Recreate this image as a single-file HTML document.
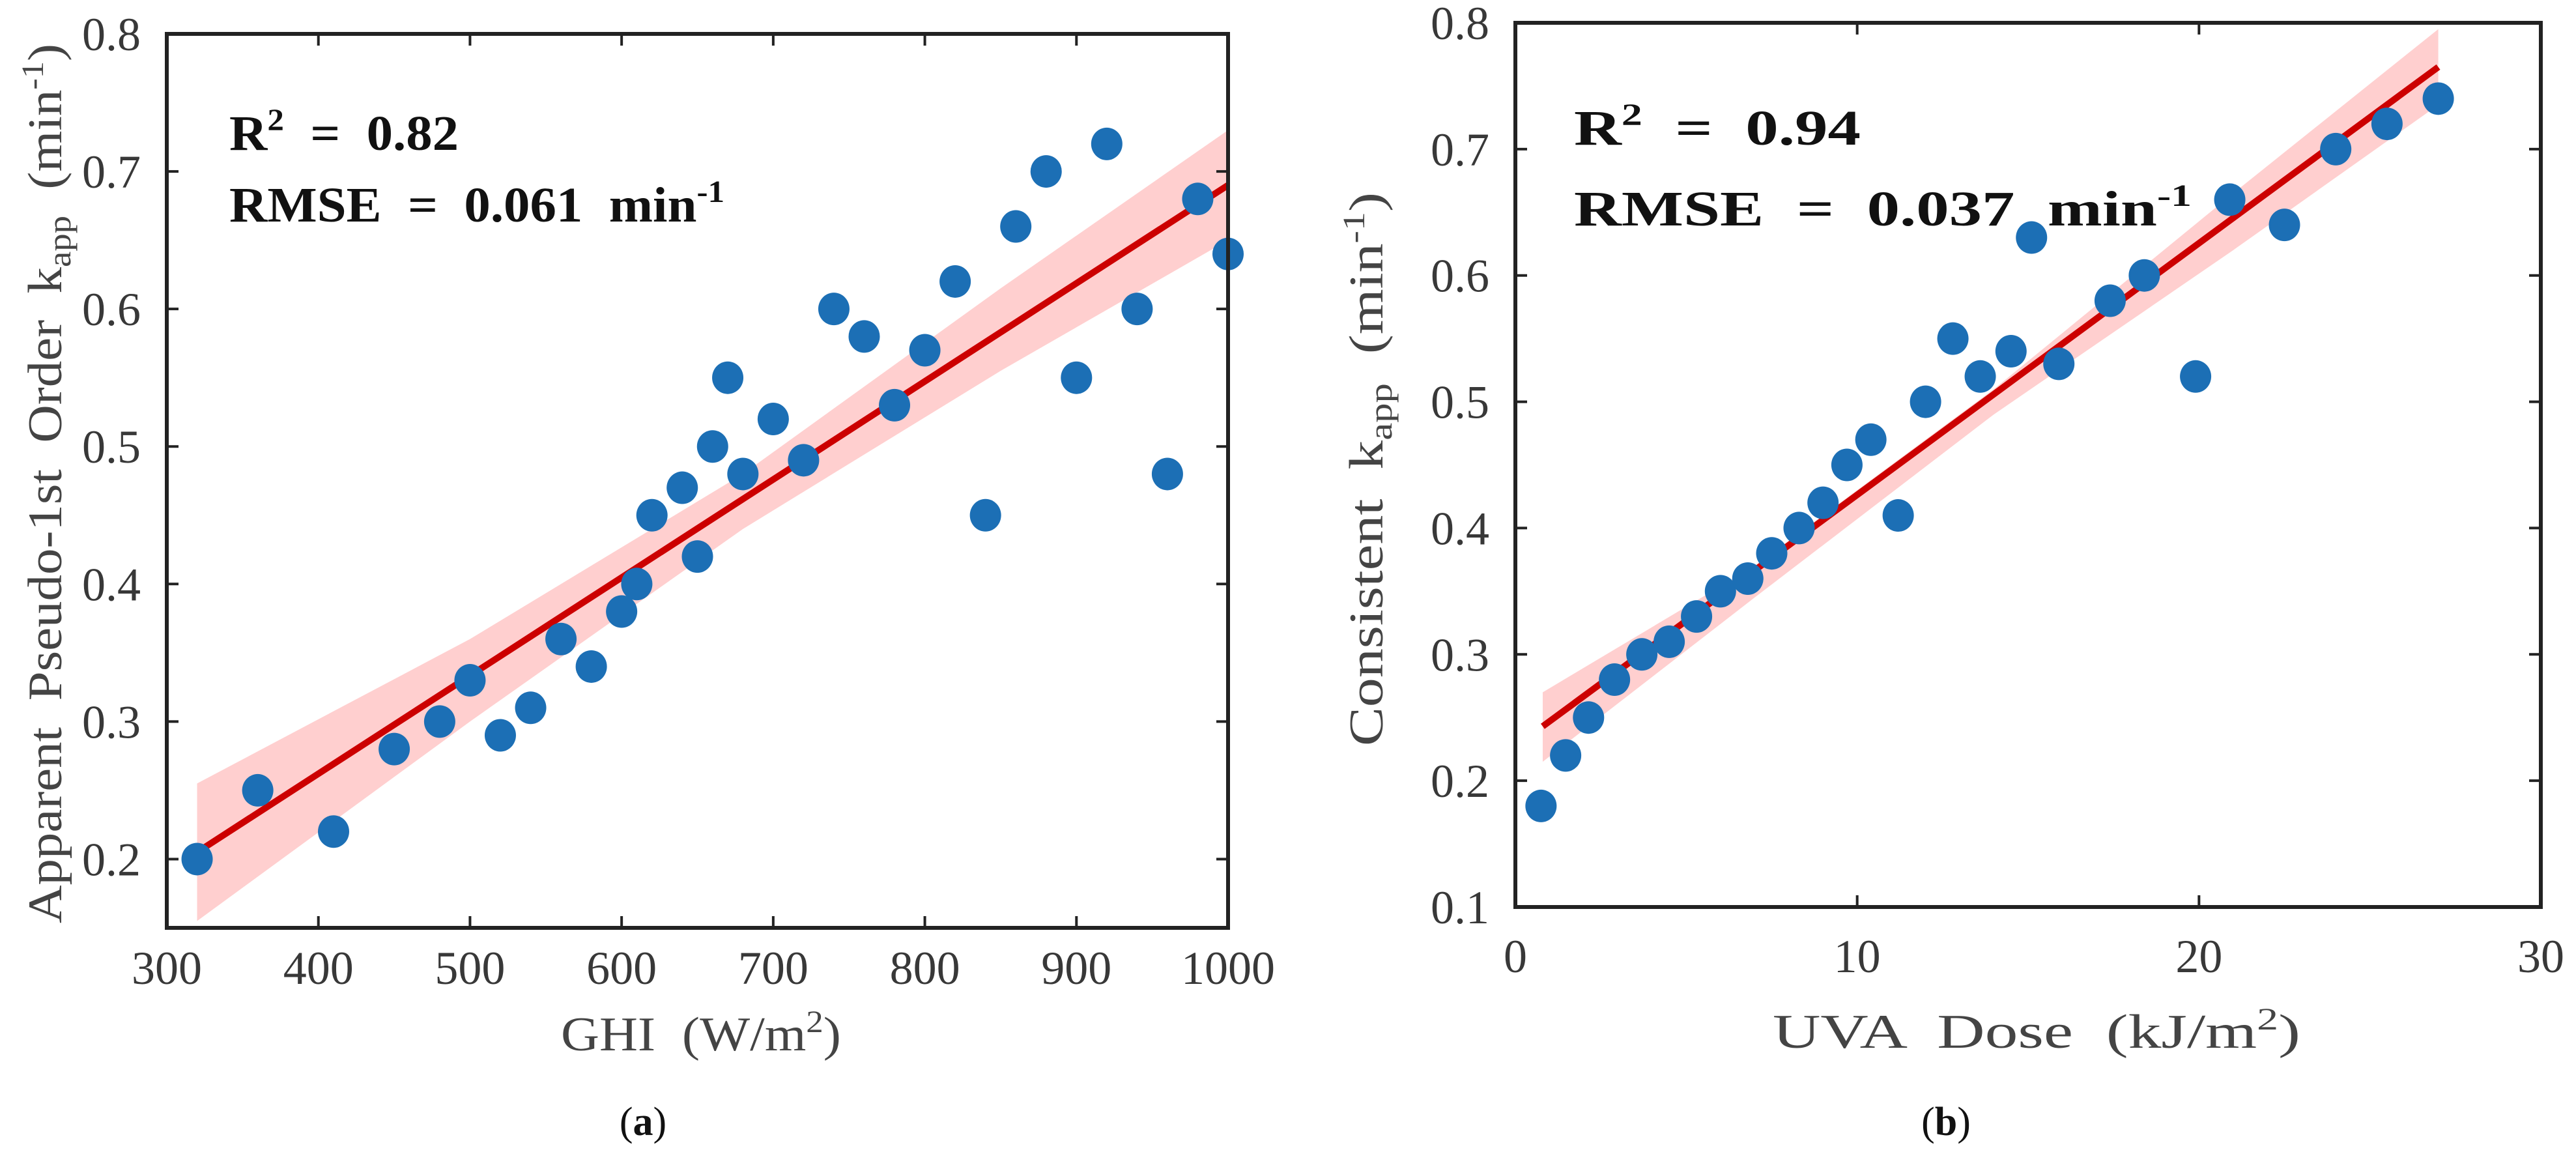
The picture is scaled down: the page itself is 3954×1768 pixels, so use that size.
<!DOCTYPE html>
<html><head><meta charset="utf-8"><style>
html,body{margin:0;padding:0;background:#fff;}
svg{display:block;}
text{font-family:"Liberation Serif",serif;}
</style></head><body>
<svg id="fig" width="3954" height="1768" viewBox="0 0 3954 1768" xmlns="http://www.w3.org/2000/svg">
<g id="panelA"></g>
<g id="panelB"></g>
</svg>
<script>
// Panel (a) data
const aX = [320,360,410,450,480,500,520,540,560,580,600,610,620,640,650,660,670,680,700,720,740,760,780,800,820,840,860,880,900,920,940,960,980,1000];
const aY = [0.20,0.25,0.22,0.28,0.30,0.33,0.29,0.31,0.36,0.34,0.38,0.40,0.45,0.47,0.42,0.50,0.55,0.48,0.52,0.49,0.60,0.58,0.53,0.57,0.62,0.45,0.66,0.70,0.55,0.72,0.60,0.48,0.68,0.64];
const aFitX = [320,1000];
const aFitY = [0.205,0.69];
const aBandX = [320,500,680,850,1000];
const aBandLo = [0.155,0.30,0.44,0.555,0.65];
const aBandHi = [0.255,0.36,0.48,0.615,0.73];
const aXTicks = [300,400,500,600,700,800,900,1000];
const aYTicks = [0.2,0.3,0.4,0.5,0.6,0.7,0.8];
const aXTickLabels = ["300","400","500","600","700","800","900","1000"];
const aYTickLabels = ["0.2","0.3","0.4","0.5","0.6","0.7","0.8"];
// Panel (b) data
const bX = [0.75,1.47,2.14,2.9,3.7,4.5,5.3,6.0,6.8,7.5,8.3,9.0,9.7,10.4,11.2,12.0,12.8,13.6,14.5,15.1,15.9,17.4,18.4,19.9,20.9,22.5,24.0,25.5,27.0];
const bY = [0.18,0.22,0.25,0.28,0.30,0.31,0.33,0.35,0.36,0.38,0.40,0.42,0.45,0.47,0.41,0.50,0.55,0.52,0.54,0.63,0.53,0.58,0.60,0.52,0.66,0.64,0.70,0.72,0.74];
const bFitX = [0.8,27];
const bFitY = [0.243,0.765];
const bBandX = [0.8,7,14,21,27];
const bBandLo = [0.215,0.345,0.49,0.62,0.735];
const bBandHi = [0.27,0.37,0.51,0.665,0.795];
const bXTicks = [0,10,20,30];
const bYTicks = [0.1,0.2,0.3,0.4,0.5,0.6,0.7,0.8];
const bXTickLabels = ["0","10","20","30"];
const bYTickLabels = ["0.1","0.2","0.3","0.4","0.5","0.6","0.7","0.8"];

const NS = "http://www.w3.org/2000/svg";
function mk(parent, tag, attrs){
  const e = document.createElementNS(NS, tag);
  for (const k in attrs) e.setAttribute(k, attrs[k]);
  parent.appendChild(e);
  return e;
}
function panel(g, cfg){
  const sx = v => cfg.L + (v - cfg.x0) / (cfg.x1 - cfg.x0) * (cfg.R - cfg.L);
  const sy = v => cfg.B - (v - cfg.y0) / (cfg.y1 - cfg.y0) * (cfg.B - cfg.T);
  let pts = [];
  for (let i = 0; i < cfg.bandX.length; i++) pts.push(sx(cfg.bandX[i]) + "," + sy(cfg.bandHi[i]));
  for (let i = cfg.bandX.length - 1; i >= 0; i--) pts.push(sx(cfg.bandX[i]) + "," + sy(cfg.bandLo[i]));
  const band = mk(g, "polygon", {points: pts.join(" "), fill: "#ffcfcf"});
  
  
  const fit = mk(g, "line", {x1: sx(cfg.fitX[0]), y1: sy(cfg.fitY[0]), x2: sx(cfg.fitX[1]), y2: sy(cfg.fitY[1]), stroke: "#cc0000", "stroke-width": 10});
  
  
  for (let i = 0; i < cfg.xs.length; i++){
    const c = mk(g, "ellipse", {cx: sx(cfg.xs[i]), cy: sy(cfg.ys[i]), rx: 24, ry: 25, fill: "#1c6fb5"});
    
    
  }
  const fr = mk(g, "rect", {x: cfg.L, y: cfg.T, width: cfg.R - cfg.L, height: cfg.B - cfg.T, fill: "none", stroke: "#222", "stroke-width": 6});
  
  
  for (let i = 0; i < cfg.xTicks.length; i++){
    const x = sx(cfg.xTicks[i]);
    const t1 = mk(g, "line", {x1: x, y1: cfg.B, x2: x, y2: cfg.B - 18, stroke: "#222", "stroke-width": 4});
    
    
    const t2 = mk(g, "line", {x1: x, y1: cfg.T, x2: x, y2: cfg.T + 18, stroke: "#222", "stroke-width": 4});
    
    
    const tl = mk(g, "text", {x: x, y: cfg.xLabY, "text-anchor": "middle", "font-size": 72, fill: "#383838"});
    tl.textContent = cfg.xTickLabels[i];
    
    
  }
  for (let i = 0; i < cfg.yTicks.length; i++){
    const y = sy(cfg.yTicks[i]);
    const t1 = mk(g, "line", {x1: cfg.L, y1: y, x2: cfg.L + 18, y2: y, stroke: "#222", "stroke-width": 4});
    
    
    const t2 = mk(g, "line", {x1: cfg.R, y1: y, x2: cfg.R - 18, y2: y, stroke: "#222", "stroke-width": 4});
    
    
    const tl = mk(g, "text", {x: cfg.L - 40, y: y + 25, "text-anchor": "end", "font-size": 72, fill: "#383838"});
    tl.textContent = cfg.yTickLabels[i];
    
    
  }
}
panel(document.getElementById("panelA"), {L:256,R:1885,T:52,B:1424,x0:300,x1:1000,y0:0.15,y1:0.8,
  xs:aX,ys:aY,fitX:aFitX,fitY:aFitY,bandX:aBandX,bandLo:aBandLo,bandHi:aBandHi,
  xTicks:aXTicks,yTicks:aYTicks,xTickLabels:aXTickLabels,yTickLabels:aYTickLabels,xLabY:1510});
panel(document.getElementById("panelB"), {L:2326,R:3900,T:35,B:1392,x0:0,x1:30,y0:0.1,y1:0.8,
  xs:bX,ys:bY,fitX:bFitX,fitY:bFitY,bandX:bBandX,bandLo:bBandLo,bandHi:bBandHi,
  xTicks:bXTicks,yTicks:bYTicks,xTickLabels:bXTickLabels,yTickLabels:bYTickLabels,xLabY:1492});
</script>
<script>
const fig = document.getElementById("fig");
const extra = `
<text x="352" y="230" font-size="76" font-weight="bold" fill="#111" xml:space="preserve" textLength="352" lengthAdjust="spacingAndGlyphs">R<tspan dy="-30" font-size="48">2</tspan><tspan dy="30">  =  0.82</tspan></text>
<text x="352" y="340" font-size="76" font-weight="bold" fill="#111" xml:space="preserve" textLength="760" lengthAdjust="spacingAndGlyphs">RMSE  =  0.061  min<tspan dy="-30" font-size="48">-1</tspan></text>
<text x="2416" y="222" font-size="76" font-weight="bold" fill="#111" xml:space="preserve" textLength="440" lengthAdjust="spacingAndGlyphs">R<tspan dy="-30" font-size="48">2</tspan><tspan dy="30">  =  0.94</tspan></text>
<text x="2416" y="346" font-size="76" font-weight="bold" fill="#111" xml:space="preserve" textLength="948" lengthAdjust="spacingAndGlyphs">RMSE  =  0.037  min<tspan dy="-30" font-size="48">-1</tspan></text>
<text x="861" y="1612" font-size="74" fill="#444" xml:space="preserve" textLength="430" lengthAdjust="spacingAndGlyphs">GHI  (W/m<tspan dy="-28" font-size="48">2</tspan><tspan dy="28">)</tspan></text>
<text x="2721" y="1608" font-size="74" fill="#444" xml:space="preserve" textLength="810" lengthAdjust="spacingAndGlyphs">UVA  Dose  (kJ/m<tspan dy="-28" font-size="48">2</tspan><tspan dy="28">)</tspan></text>
<text transform="translate(94,1417) rotate(-90)" x="0" y="0" font-size="74" fill="#444" xml:space="preserve" textLength="1350" lengthAdjust="spacingAndGlyphs">Apparent  Pseudo-1st  Order  k<tspan dy="14" font-size="50">app</tspan><tspan dy="-14">  (min</tspan><tspan dy="-28" font-size="48">-1</tspan><tspan dy="28">)</tspan></text>
<text transform="translate(2122,1145) rotate(-90)" x="0" y="0" font-size="74" fill="#444" xml:space="preserve" textLength="850" lengthAdjust="spacingAndGlyphs">Consistent  k<tspan dy="14" font-size="50">app</tspan><tspan dy="-14">  (min</tspan><tspan dy="-28" font-size="48">-1</tspan><tspan dy="28">)</tspan></text>
<text x="987" y="1742" font-size="62" fill="#111" text-anchor="middle">(<tspan font-weight="bold">a</tspan>)</text>
<text x="2987" y="1742" font-size="62" fill="#111" text-anchor="middle">(<tspan font-weight="bold">b</tspan>)</text>
`;
fig.insertAdjacentHTML("beforeend", extra);
</script>
</body></html>
